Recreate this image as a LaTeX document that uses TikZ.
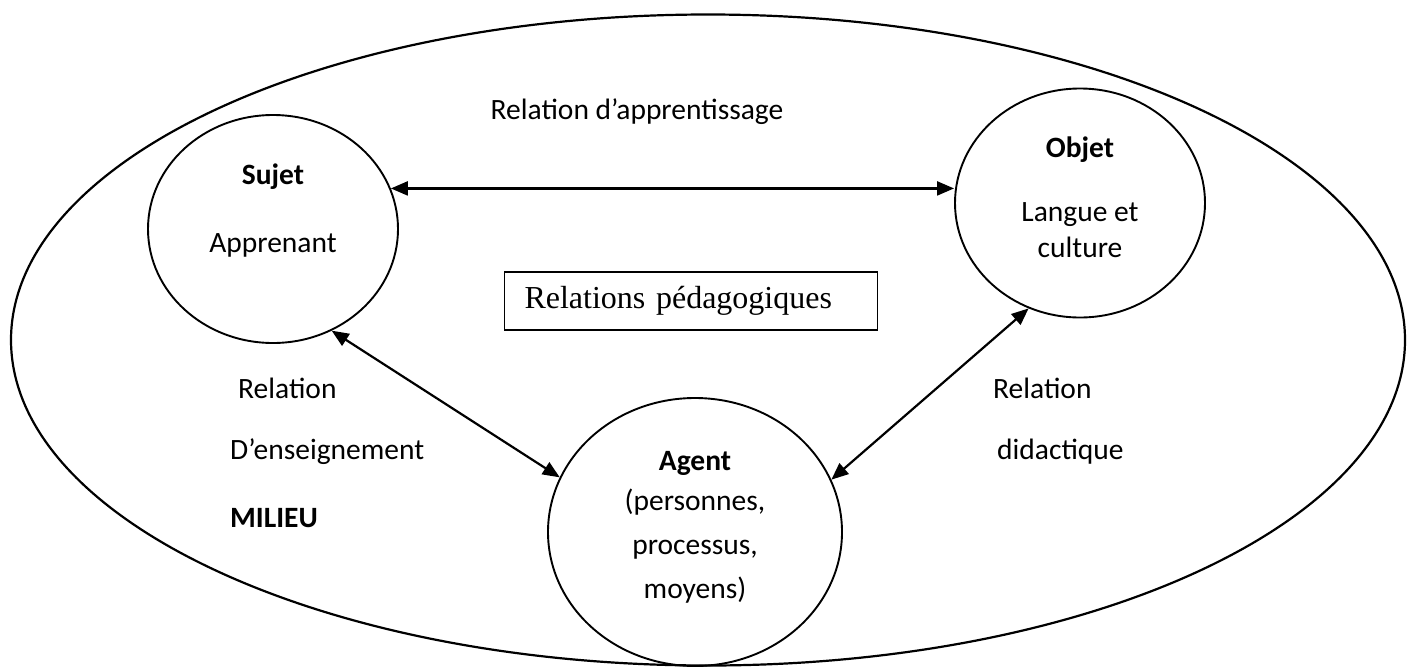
\documentclass[tikz,border=0pt]{standalone}
\usepackage{fontspec}
\setmainfont{Carlito}
\newfontfamily\timesfont{Liberation Serif}
\usetikzlibrary{arrows.meta,shapes.geometric}

\begin{document}
\begin{tikzpicture}[
    x=1pt,y=-1pt,
    >={Triangle[length=17pt,width=14pt]},
    font=\fontsize{29.5}{35}\selectfont,
    pole/.style={
      ellipse,draw,line width=1.9pt,inner sep=0pt
    },
    gras/.style={font=\fontsize{29.5}{35}\selectfont\bfseries},
    txt/.style={inner sep=0pt},
    flow/.style={<->,line width=2.2pt}
  ]
    \useasboundingbox (0,0) rectangle (1413,670);

    % milieu
    \node[pole,line width=2.2pt,minimum width=1394pt,minimum height=651pt] (milieu) at (708,340) {};

    % les trois poles
    \node[pole,minimum width=250pt,minimum height=228pt] (sujet) at (273,229) {};
    \node[pole,minimum width=250pt,minimum height=229pt] (objet) at (1080,203) {};
    \node[pole,minimum width=294pt,minimum height=268pt] (agent) at (695,532) {};

    \node[txt,gras] (sujtitre) at (273,177) {Sujet};
    \node[txt] (sujtexte) at (273,245) {Apprenant};
    \node[txt,gras] (objtitre) at (1080,150) {Objet};
    \node[txt,align=center,font=\fontsize{29.5}{36}\selectfont] (objtexte) at (1080,230) {Langue et\\culture};
    \node[txt,gras] (agtitre) at (695,463) {Agent};
    \node[txt,align=center,font=\fontsize{29.5}{44}\selectfont] (agtexte) at (695,546) {(personnes,\\processus,\\moyens)};

    % relations
    \node[txt] (rapp) at (637,112) {Relation d’apprentissage};
    \node[txt,anchor=west] (rens1) at (238,388) {Relation};
    \node[txt,anchor=west] (rens2) at (230,452) {D’enseignement};
    \node[txt,anchor=west,gras] (milieutxt) at (230,518) {MILIEU};
    \node[txt,anchor=west] (rdid1) at (993,388) {Relation};
    \node[txt,anchor=west] (rdid2) at (997,452) {didactique};

    \node[draw,line width=1.4pt,minimum width=373pt,minimum height=58pt,inner sep=0pt,
      text width=333pt,align=left,
      font=\fontsize{32}{38}\timesfont] (peda) at (691,301) {Relations pédagogiques};

    \draw[flow] (sujet.19) -- (sujet.19 -| objet.west);
    \draw[flow] (sujet.-60) -- (agent.158);
    \draw[flow] (agent.21) -- (objet.-116);
  \end{tikzpicture}
\end{document}
